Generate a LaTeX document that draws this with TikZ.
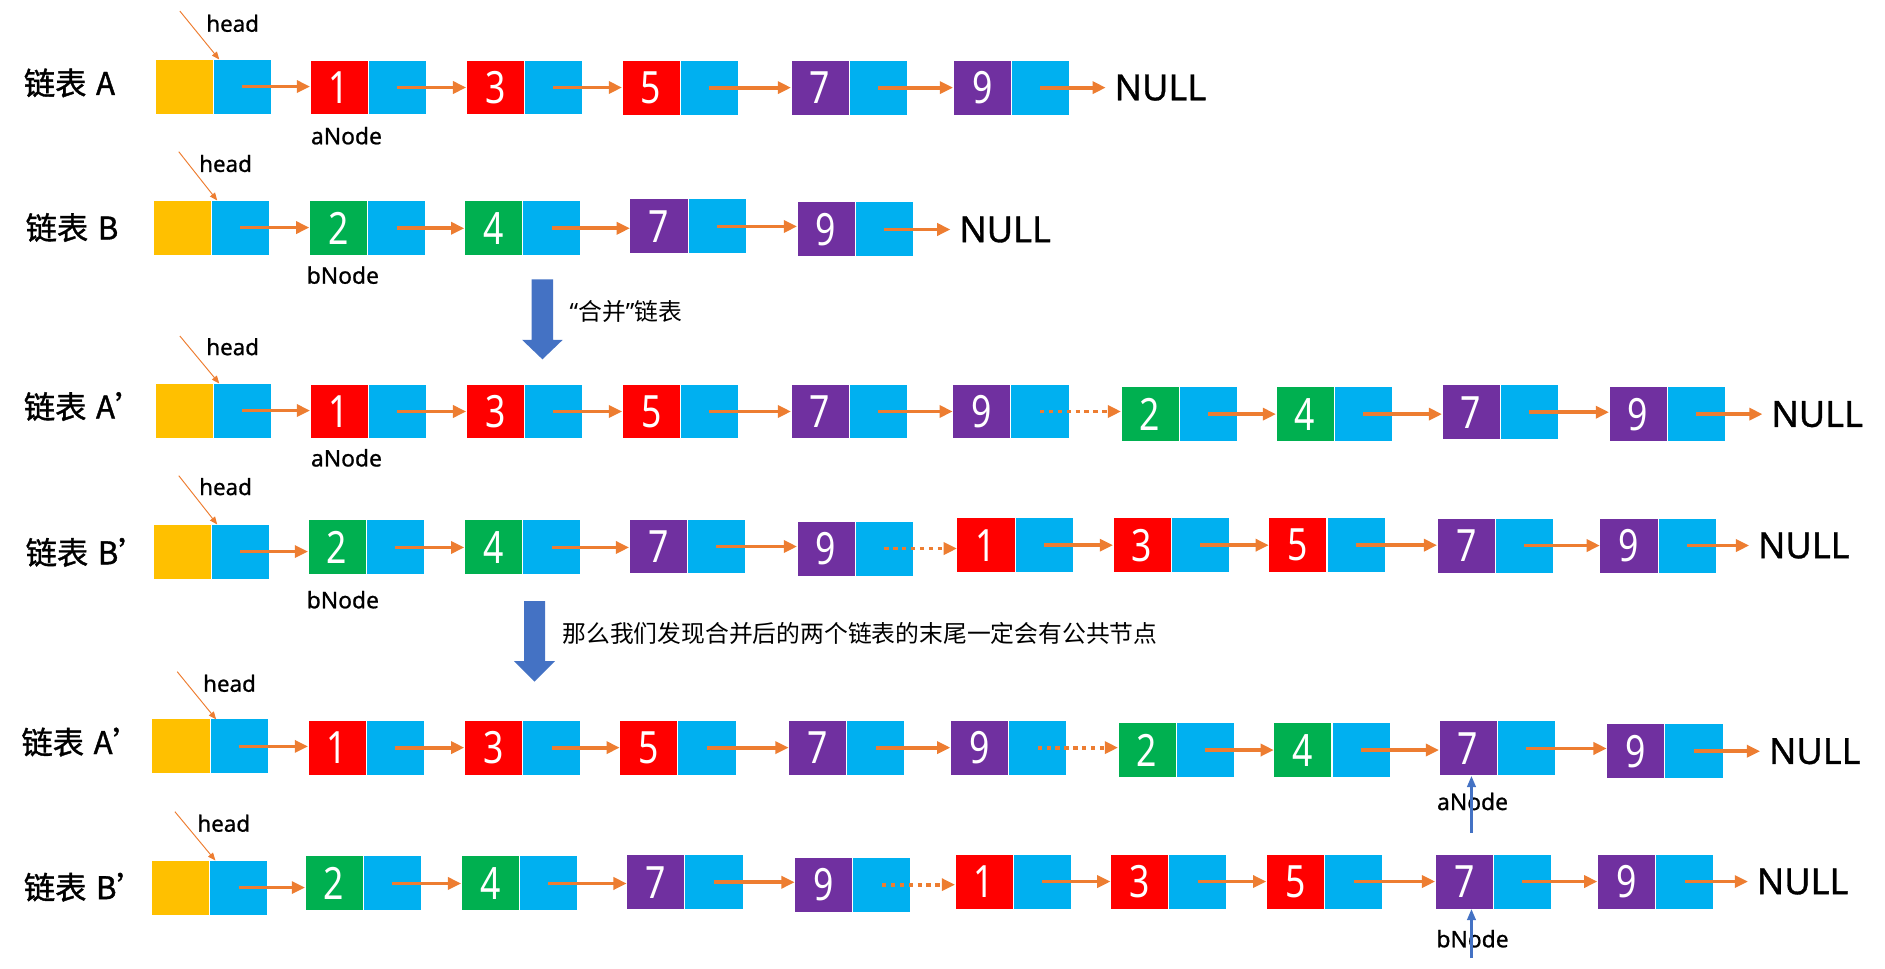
\documentclass[tikz,border=0pt]{standalone}
\usepackage{fontspec}
\setmainfont{Noto Sans}
\newfontfamily\cjk{Noto Sans CJK SC}
\newfontfamily\cjkb[FakeBold=1.2]{Noto Sans CJK SC}
\newfontfamily\latb[FakeBold=0.9]{Noto Sans}
\newfontfamily\digitfont[FakeStretch=0.8]{Noto Sans}
\usetikzlibrary{arrows.meta}
\definecolor{hy}{HTML}{FFC000}
\definecolor{pb}{HTML}{00B0F0}
\definecolor{nr}{HTML}{FF0000}
\definecolor{ng}{HTML}{00B050}
\definecolor{np}{HTML}{7030A0}
\definecolor{ao}{HTML}{ED7D31}
\definecolor{bb}{HTML}{4472C4}
\tikzset{
 cell/.style={minimum width=24.2pt, minimum height=22.9pt, inner sep=0pt, outer sep=0pt, draw=white, line width=0.45pt},
 databox/.style={cell, text=white, font=\digitfont\fontsize{18.5}{18.5}\selectfont},
 ptrbox/.style={cell, fill=pb},
 link/.style={draw=ao, line width=1.6pt, -{Triangle[length=5.5pt,width=5pt]}},
 dlink/.style={link, dash pattern=on 1.8pt off 1.9pt},
 headptr/.style={draw=ao, line width=0.4pt, -{Triangle[length=3.2pt,width=2.6pt]}},
 bluptr/.style={draw=bb, line width=0.9pt, -{Triangle[length=4.6pt,width=3.6pt]}},
 rowlabel/.style={anchor=west, inner sep=0pt, font=\cjkb\fontsize{13}{13}\selectfont},
 headtext/.style={anchor=base west, inner sep=0pt, font=\latb\fontsize{9.3}{9.3}\selectfont},
 ptrtext/.style={anchor=base west, inner sep=0pt, font=\latb\fontsize{9.5}{9.5}\selectfont},
 nulltext/.style={anchor=west, inner ysep=0pt, inner xsep=3.5pt, font=\latb\fontsize{15}{15}\selectfont},
 captiontext/.style={anchor=west, inner sep=0pt, font=\cjk\fontsize{9.9}{9.9}\selectfont},
 bigarrow/.style={fill=bb},
}
% id, x, y
\newcommand\mkhead[3]{%
  \node[cell, fill=hy, anchor=north west] (#1-d) at (#2,#3) {};
  \node[ptrbox, anchor=north west] (#1-p) at (#1-d.north east) {};}
% id, x, y, colour, digit
\newcommand\mknode[5]{%
  \node[databox, fill=#4, anchor=north west] (#1-d) at (#2,#3) {#5};
  \node[ptrbox, anchor=north west] (#1-p) at (#1-d.north east) {};}
\newcommand\mklink[2]{\draw[link] (#1-p.center) -- (#1-p.center -| #2-d.west);}
\newcommand\mkdlink[2]{\draw[dlink] (#1-p.center) -- (#1-p.center -| #2-d.west);}
% id, x, source
\newcommand\mknull[3]{%
  \coordinate (#1x) at (#2,0);
  \node[nulltext] (#1) at (#1x |- #3-p.center) {NULL};
  \draw[link] (#3-p.center) -- (#1.west);}
% id, start x, start y
\newcommand\mkheadptr[3]{%
  \coordinate (#1s) at (#2,#3);
  \draw[headptr] (#1s) -- ([xshift=2.5pt,yshift=-0.2pt]#1-p.north west);}
\begin{document}
\begin{tikzpicture}[x=0.5pt, y=-0.5pt]
\useasboundingbox (0,0) rectangle (1568,806);

% ---------- Row A ----------
\node[rowlabel] (LA) at (19.5,69) {链表\hspace{4pt}A};
\mkhead{hA}{129}{49.1}
\mknode{A1}{257.9}{49.9}{nr}{1}
\mknode{A3}{387.8}{49.9}{nr}{3}
\mknode{A5}{517.4}{50}{nr}{5}
\mknode{A7}{658}{50}{np}{7}
\mknode{A9}{792.8}{50}{np}{9}
\mklink{hA}{A1}\mklink{A1}{A3}\mklink{A3}{A5}\mklink{A5}{A7}\mklink{A7}{A9}
\mknull{An}{919.8}{A9}
\node[headtext] (hAt) at (171.2,26.4) {head};
\mkheadptr{hA}{149.6}{9.2}
\node[ptrtext] (aA) at (258.3,120) {aNode};

% ---------- Row B ----------
\node[rowlabel] (LB) at (21,189.3) {链表\hspace{4pt}B};
\mkhead{hB}{127.3}{166.4}
\mknode{B2}{257.3}{167}{ng}{2}
\mknode{B4}{386.2}{167}{ng}{4}
\mknode{B7}{524}{165.5}{np}{7}
\mknode{B9}{663}{168}{np}{9}
\mklink{hB}{B2}\mklink{B2}{B4}\mklink{B4}{B7}\mklink{B7}{B9}
\mknull{Bn}{790.6}{B9}
\node[headtext] (hBt) at (165.3,143) {head};
\mkheadptr{hB}{148.7}{126.2}
\node[ptrtext] (bB) at (254.8,236) {bNode};

% ---------- arrow 1 ----------
\fill[bigarrow] (442.2,232.4) -- (460.2,232.4) -- (460.2,282.8) -- (468,282.8)
  -- (451.2,298.9) -- (434.4,282.8) -- (442.2,282.8) -- cycle;
\node[captiontext] (cap1) at (473.5,259) {{\rmfamily “}合并{\rmfamily ”}链表};

% ---------- Row C (A') ----------
\node[rowlabel] (LC) at (19.5,338.2) {链表\hspace{4pt}A’};
\mkhead{hC}{129}{318.6}
\mknode{C1}{257.9}{319.4}{nr}{1}
\mknode{C3}{387.8}{319.4}{nr}{3}
\mknode{C5}{517.5}{319.4}{nr}{5}
\mknode{C7}{658}{319.4}{np}{7}
\mknode{C9}{792.5}{319.4}{np}{9}
\mknode{C2}{932.5}{321.6}{ng}{2}
\mknode{C4}{1061.4}{321.6}{ng}{4}
\mknode{C7b}{1199.5}{320}{np}{7}
\mknode{C9b}{1338.4}{321.6}{np}{9}
\mklink{hC}{C1}\mklink{C1}{C3}\mklink{C3}{C5}\mklink{C5}{C7}\mklink{C7}{C9}
\mkdlink{C9}{C2}
\mklink{C2}{C4}\mklink{C4}{C7b}\mklink{C7b}{C9b}
\mknull{Cn}{1466.1}{C9b}
\node[headtext] (hCt) at (171.2,295.4) {head};
\mkheadptr{hC}{149.6}{279.5}
\node[ptrtext] (aC) at (258.3,388) {aNode};

% ---------- Row D (B') ----------
\node[rowlabel] (LD) at (21,459.5) {链表\hspace{4pt}B’};
\mkhead{hD}{127.3}{435.9}
\mknode{D2}{256.2}{432.5}{ng}{2}
\mknode{D4}{386.2}{432.5}{ng}{4}
\mknode{D7}{523.3}{431.7}{np}{7}
\mknode{D9}{663}{433.4}{np}{9}
\mknode{D1}{796}{430.6}{nr}{1}
\mknode{D3}{925.8}{430.6}{nr}{3}
\mknode{D5}{1055.4}{430.6}{nr}{5}
\mknode{D7b}{1195.4}{430.9}{np}{7}
\mknode{D9b}{1330.8}{430.9}{np}{9}
\mklink{hD}{D2}\mklink{D2}{D4}\mklink{D4}{D7}\mklink{D7}{D9}
\mkdlink{D9}{D1}
\mklink{D1}{D3}\mklink{D3}{D5}\mklink{D5}{D7b}\mklink{D7b}{D9b}
\mknull{Dn}{1455}{D9b}
\node[headtext] (hDt) at (165.3,411.8) {head};
\mkheadptr{hD}{148.7}{395.7}
\node[ptrtext] (bD) at (254.8,506) {bNode};

% ---------- arrow 2 ----------
\fill[bigarrow] (435.9,500) -- (453.5,500) -- (453.5,550) -- (461.7,550)
  -- (444.7,567) -- (427.7,550) -- (435.9,550) -- cycle;
\node[captiontext] (cap2) at (467.5,527) {那么我们发现合并后的两个链表的末尾一定会有公共节点};

% ---------- Row E (A'') ----------
\node[rowlabel] (LE) at (17.5,617.3) {链表\hspace{4pt}A’};
\mkhead{hE}{126.4}{598}
\mknode{E1}{256.2}{599}{nr}{1}
\mknode{E3}{386.2}{599}{nr}{3}
\mknode{E5}{515.5}{599}{nr}{5}
\mknode{E7}{656}{599}{np}{7}
\mknode{E9}{790.5}{599}{np}{9}
\mknode{E2}{930}{601}{ng}{2}
\mknode{E4}{1059.6}{601}{ng}{4}
\mknode{E7b}{1197}{599.7}{np}{7}
\mknode{E9b}{1336.5}{602}{np}{9}
\mklink{hE}{E1}\mklink{E1}{E3}\mklink{E3}{E5}\mklink{E5}{E7}\mklink{E7}{E9}
\mkdlink{E9}{E2}
\mklink{E2}{E4}\mklink{E4}{E7b}\mklink{E7b}{E9b}
\mknull{En}{1464.1}{E9b}
\node[headtext] (hEt) at (168.6,575.4) {head};
\mkheadptr{hE}{147.4}{558.7}
\node[ptrtext] (aE) at (1195,673.8) {aNode};
\coordinate (aEs) at (1224,692.6);
\draw[bluptr] (aEs) -- (aEs |- E7b-d.south);

% ---------- Row F (B'') ----------
\node[rowlabel] (LF) at (19.5,738) {链表\hspace{4pt}B’};
\mkhead{hF}{125.8}{715.4}
\mknode{F2}{253.7}{712}{ng}{2}
\mknode{F4}{383.6}{712}{ng}{4}
\mknode{F7}{521.3}{711}{np}{7}
\mknode{F9}{661}{713}{np}{9}
\mknode{F1}{794.4}{710.4}{nr}{1}
\mknode{F3}{923.7}{710.4}{nr}{3}
\mknode{F5}{1053.3}{710.4}{nr}{5}
\mknode{F7b}{1193.8}{710.4}{np}{7}
\mknode{F9b}{1328.7}{710.4}{np}{9}
\mklink{hF}{F2}\mklink{F2}{F4}\mklink{F4}{F7}\mklink{F7}{F9}
\mkdlink{F9}{F1}
\mklink{F1}{F3}\mklink{F3}{F5}\mklink{F5}{F7b}\mklink{F7b}{F9b}
\mknull{Fn}{1454}{F9b}
\node[headtext] (hFt) at (163.8,691.8) {head};
\mkheadptr{hF}{145.5}{675.2}
\node[ptrtext] (bF) at (1194.5,788) {bNode};
\coordinate (bFs) at (1224,797);
\draw[bluptr] (bFs) -- (bFs |- F7b-d.south);
\end{tikzpicture}
\end{document}
